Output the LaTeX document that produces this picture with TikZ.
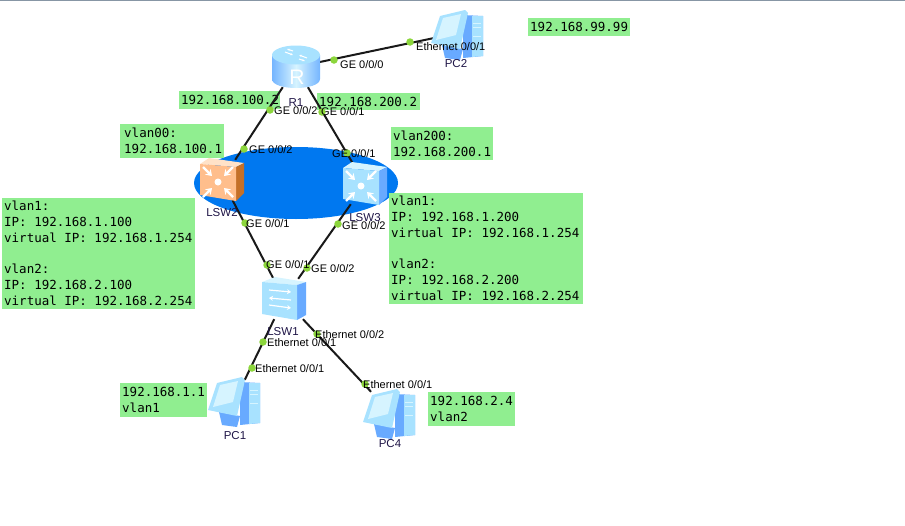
\documentclass[tikz,border=0pt]{standalone}
\usepackage{fontspec}
\setmainfont{Liberation Sans}
\newfontfamily\boxfont{DejaVu Sans Mono}
\usepackage{tikz}
\usetikzlibrary{shapes.geometric,arrows.meta}
\definecolor{cOval}{RGB}{0,120,240}
\definecolor{cNote}{RGB}{144,238,144}
\definecolor{cDot}{RGB}{140,214,60}
\definecolor{cBar}{RGB}{135,150,165}
\definecolor{cName}{RGB}{30,20,70}
\definecolor{cSky}{RGB}{168,226,255}
\definecolor{cSkyLt}{RGB}{214,244,255}
\definecolor{cSkyDk}{RGB}{104,170,255}
\definecolor{cPeach}{RGB}{255,190,140}
\definecolor{cPeachLt}{RGB}{255,226,200}
\definecolor{cPeachDk}{RGB}{196,112,40}
\tikzset{
  oval/.style={ellipse,fill=cOval,inner sep=0pt,minimum width=204pt,minimum height=72pt},
  note/.style={rectangle,fill=cNote,anchor=north west,inner xsep=2pt,inner ysep=0pt,
               align=flush left,font=\boxfont\fontsize{12.5}{16}\selectfont},
  devbox/.style={rectangle,inner sep=0pt,minimum width=44pt,minimum height=40pt},
  devname/.style={font=\fontsize{11.5}{13}\selectfont,text=cName,inner sep=0pt},
  link/.style={line width=2pt,color=black!90},
  portdot/.style={circle,fill=cDot,inner sep=0pt,minimum size=7.5pt},
  portlbl/.style={anchor=west,inner sep=0pt,font=\fontsize{11}{13}\selectfont},
  pics/routericon/.style={code={
    \shade[left color=cSkyDk!80!cSky,right color=cSkyDk!80!cSky,middle color=cSkyLt]
      (-24,-12) -- (-24,12) .. controls (-24,24) and (24,24) .. (24,12) -- (24,-12) -- cycle;
    \fill[cSky] (0,-12) ellipse [x radius=24pt,y radius=9.5pt];
    \draw[white,line width=1pt,-{Stealth[length=3pt]}] (-11,-15) -- (-3,-12);
    \draw[white,line width=1pt,-{Stealth[length=3pt]}] (11,-9) -- (3,-12);
    \draw[white,line width=1pt,-{Stealth[length=3pt]}] (-3,-16) -- (-9,-18);
    \draw[white,line width=1pt,-{Stealth[length=3pt]}] (3,-8) -- (9,-6);
    \node[white,inner sep=0pt] (rmark) at (1,10) {\fontsize{21}{21}\selectfont R};
  }},
  pics/coreicon/.style n args={3}{code={
    \fill[#2] (-22,-16) -- (-13,-22) -- (22,-17) -- (14,-13) -- cycle;
    \fill[#3] (14,-13) -- (22,-17) -- (22,13) -- (14,21) -- cycle;
    \fill[#1] (-22,-16) -- (14,-13) -- (14,21) -- (-22,15) -- cycle;
    \fill[white] (-4,2) circle (3.5pt);
    \foreach \sx/\sy in {-1/-1,1/-1,-1/1,1/1}
      \draw[white,line width=2.4pt,-{Stealth[length=6pt,width=8pt]}]
        ({-4+\sx*15},{2+\sy*15}) -- ({-4+\sx*6},{2+\sy*6});
  }},
  pics/switchicon/.style={code={
    \fill[cSkyLt] (-22,-17) -- (-9,-22) -- (22,-17) -- (13,-14) -- cycle;
    \fill[cSkyDk] (13,-14) -- (22,-17) -- (22,16) -- (13,21) -- cycle;
    \fill[cSky] (-22,-17) -- (13,-14) -- (13,21) -- (-22,15) -- cycle;
    \draw[white,line width=1.2pt,-{Stealth[length=4pt,width=5pt]}] (-15,-9) -- (7,-7);
    \draw[white,line width=1.2pt,-{Stealth[length=4pt,width=5pt]}] (7,1) -- (-15,-1);
    \draw[white,line width=1.2pt,-{Stealth[length=4pt,width=5pt]}] (-15,6) -- (7,9);
  }},
  pics/pcicon/.style={code={
    \fill[cSkyDk] (5,-18) -- (25,-17) -- (25,23) -- (5,25) -- cycle;
    \fill[cSky] (14,-17) -- (25,-17) -- (25,23) -- (14,24) -- cycle;
    \fill[cSkyDk] (-16,12) -- (5,16) -- (2,27) -- (-13,25) -- cycle;
    \fill[cSky] (-27,10) -- (-18,-17) -- (7,-23) -- (10,-20) -- (2,16) -- cycle;
    \fill[cSkyLt] (-22,7) -- (-15,-15) -- (3,-19) -- (-2,2) -- cycle;
    \draw[cSkyLt,line width=.8pt] (15,-10) -- (23,-10) (15,-6) -- (23,-6) (15,3) -- (23,3);
  }}
}
\begin{document}
\begin{tikzpicture}[x=1pt,y=-1pt]
  \useasboundingbox (0,0) rectangle (905,525);
  \fill[cBar] (0,0) rectangle (905,1.2);

  \node[oval] (vrrp) at (296,183) {};

  % address notes
  \node[note,minimum width=102pt,minimum height=18pt,text width=98pt] (n99) at (528,18) {192.168.99.99};
  \node[note,minimum width=101pt,minimum height=18pt,text width=97pt] (n100) at (179,91) {192.168.100.2};
  \node[note,minimum width=103pt,minimum height=17pt,text width=99pt] (n200) at (317,93) {192.168.200.2};
  \node[note,minimum width=104pt,minimum height=34pt,text width=100pt] (nv100) at (120,124) {\hspace{2pt}vlan00:\\\hspace{2pt}192.168.100.1};
  \node[note,minimum width=102pt,minimum height=33pt,text width=98pt] (nv200) at (391,127) {vlan200:\\192.168.200.1};
  \node[note,minimum width=193pt,minimum height=111pt,text width=189pt] (nlsw2) at (2,198)
      {vlan1:\\IP: 192.168.1.100\\virtual IP: 192.168.1.254\\[15pt]vlan2:\\IP: 192.168.2.100\\virtual IP: 192.168.2.254};
  \node[note,minimum width=194pt,minimum height=111pt,text width=190pt] (nlsw3) at (389,193)
      {vlan1:\\IP: 192.168.1.200\\virtual IP: 192.168.1.254\\[15pt]vlan2:\\IP: 192.168.2.200\\virtual IP: 192.168.2.254};
  \node[note,minimum width=87pt,minimum height=34pt,text width=83pt] (npc1) at (120,383) {192.168.1.1\\vlan1};
  \node[note,minimum width=87pt,minimum height=34pt,text width=83pt] (npc4) at (428,392) {192.168.2.4\\vlan2};

  % devices
  \node[devbox] (r1) at (296,67) {};
  \node[devbox] (pc2) at (458,33) {};
  \node[devbox] (lsw2) at (222,180) {};
  \node[devbox] (lsw3) at (365,184) {};
  \node[devbox] (lsw1) at (284,299) {};
  \node[devbox] (pc1) at (235,400) {};
  \node[devbox] (pc4) at (390,412) {};

  \draw[link] (r1) -- (pc2);
  \draw[link] (r1) -- (lsw2);
  \draw[link] (r1) -- (lsw3);
  \draw[link] (lsw2) -- (lsw1);
  \draw[link] (lsw3) -- (lsw1);
  \draw[link] (lsw1) -- (pc1);
  \draw[link] (lsw1) -- (pc4);

  \pic at (r1) {routericon};
  \pic at (pc2) {pcicon};
  \pic at (lsw2) {coreicon={cPeach}{cPeachLt}{cPeachDk}};
  \pic at (lsw3) {coreicon={cSky}{cSkyLt}{cSkyDk}};
  \pic at (lsw1) {switchicon};
  \pic at (pc1) {pcicon};
  \pic at (pc4) {pcicon};

  \node[devname] (r1name) at (296,103) {R1};
  \node[devname] (pc2name) at (456,64) {PC2};
  \node[devname] (lsw2name) at (222,213) {LSW2};
  \node[devname] (lsw3name) at (365,218) {LSW3};
  \node[devname] (lsw1name) at (283,332) {LSW1};
  \node[devname] (pc1name) at (235,436) {PC1};
  \node[devname] (pc4name) at (390,444) {PC4};

  % ports
  \node[portdot] (p1) at (334,60) {};
  \node[portdot] (p2) at (410,42) {};
  \node[portdot] (p3) at (270,110) {};
  \node[portdot] (p4) at (322,112) {};
  \node[portdot] (p5) at (244,149) {};
  \node[portdot] (p6) at (347,153) {};
  \node[portdot] (p7) at (245,223) {};
  \node[portdot] (p8) at (338,224) {};
  \node[portdot] (p9) at (267,265) {};
  \node[portdot] (p10) at (307,268) {};
  \node[portdot] (p11) at (263,342) {};
  \node[portdot] (p12) at (252,368) {};
  \node[portdot] (p13) at (317,334) {};
  \node[portdot] (p14) at (365,384) {};

  \node[portlbl] (l1) at (340,65) {GE 0/0/0};
  \node[portlbl] (l2) at (416,47) {Ethernet 0/0/1};
  \node[portlbl] (l3) at (274,111) {GE 0/0/2};
  \node[portlbl] (l4) at (321,112) {GE 0/0/1};
  \node[portlbl] (l5) at (249,150) {GE 0/0/2};
  \node[portlbl] (l6) at (332,154) {GE 0/0/1};
  \node[portlbl] (l7) at (246,224) {GE 0/0/1};
  \node[portlbl] (l8) at (342,226) {GE 0/0/2};
  \node[portlbl] (l9) at (266,265) {GE 0/0/1};
  \node[portlbl] (l10) at (311,269) {GE 0/0/2};
  \node[portlbl] (l11) at (267,343) {Ethernet 0/0/1};
  \node[portlbl] (l12) at (255,369) {Ethernet 0/0/1};
  \node[portlbl] (l13) at (315,335) {Ethernet 0/0/2};
  \node[portlbl] (l14) at (363,385) {Ethernet 0/0/1};
\end{tikzpicture}
\end{document}
